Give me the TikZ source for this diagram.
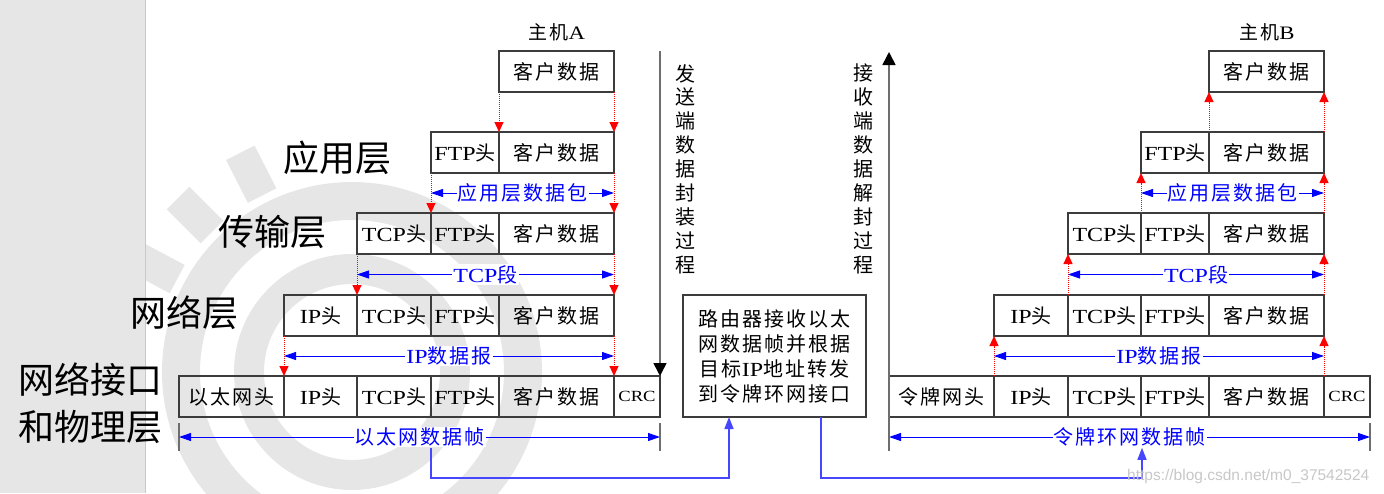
\documentclass[tikz,border=0pt]{standalone}
\usepackage{fontspec}
\setmainfont{Liberation Serif}[FakeStretch=1.2]
\newfontfamily\cjkf[LetterSpace=10]{Noto Sans CJK SC}
\newfontfamily\cjkb{Noto Sans CJK SC}
\newfontfamily\wmf{Liberation Sans}
\newcommand\zhs[1]{{\cjkf #1}}
\newcommand\zhb[1]{{\cjkb #1}}
\usetikzlibrary{arrows.meta,calc}
\definecolor{wm}{RGB}{230,230,230}
\definecolor{stripe}{RGB}{230,230,230}
\definecolor{stripeline}{RGB}{200,200,200}
\definecolor{boxline}{RGB}{60,60,60}
\definecolor{vline}{RGB}{110,110,110}
\definecolor{pblue}{RGB}{0,0,255}
\definecolor{lblue}{RGB}{70,70,255}
\newcommand\cellnode[5]{\node[cellst,minimum width={(#3-#2)*1pt},anchor=north west] (#1) at (#2,#4) {#5};}
\newcommand\wmray[1]{\fill[wm] ($(C)+(#1:198pt)+(#1+90:16pt)$) -- ($(C)+(#1:246pt)+(#1+90:16pt)$) -- ($(C)+(#1:246pt)+(#1-90:16pt)$) -- ($(C)+(#1:198pt)+(#1-90:16pt)$) -- cycle;}
\begin{document}
\begin{tikzpicture}[x=1pt,y=-1pt,
  cellst/.style={draw=boxline,line width=1.3pt,minimum height=41pt,inner sep=0pt,outer sep=0pt,font=\fontsize{20}{24}\selectfont},
  crcst/.style={cellst,font=\fontsize{15.5}{20}\selectfont},
  reddot/.style={red,densely dotted,line width=1pt,-{Triangle[width=9pt,length=10pt]}},
  bluearr/.style={pblue,line width=1pt,{Triangle[width=8pt,length=12pt]}-{Triangle[width=8pt,length=12pt]}},
  bluelbl/.style={fill=white,inner sep=1pt,text=pblue,font=\fontsize{20}{24}\selectfont},
  tickst/.style={vline,line width=1.3pt},
  bluelink/.style={lblue,line width=1.5pt,-{Triangle[width=9pt,length=12pt]}},
  procarr/.style={vline,line width=1.6pt,-{Triangle[width=13pt,length=13pt,color=black]}},
  sidelbl/.style={font=\fontsize{36}{42}\selectfont,inner sep=0pt},
  titlest/.style={font=\fontsize{19}{22}\selectfont,inner sep=0pt},
  vtext/.style={font=\fontsize{20}{23.9}\selectfont,align=center,inner sep=0pt,anchor=north}
]
\useasboundingbox (0,0) rectangle (1384,493);
% watermark
\coordinate (C) at (352,372);
\begin{scope}
\clip (0,0) rectangle (1384,493);
\fill[wm,even odd rule] (C) circle (190pt) (C) circle (152pt);
\fill[wm,even odd rule] (C) circle (118pt) (C) circle (88pt);
\wmray{117}
\wmray{135}
\wmray{152}
\end{scope}
\fill[stripe] (0,0) rectangle (145,493);
\draw[stripeline,line width=0.8pt] (145,0) -- (145,493);

% side labels
\node[sidelbl] (lapp) at (337,158) {\zhb{应用层}};
\node[sidelbl] (ltrans) at (272,232) {\zhb{传输层}};
\node[sidelbl] (lnet) at (184,313) {\zhb{网络层}};
\node[sidelbl,anchor=west] (llink1) at (18,380) {\zhb{网络接口}};
\node[sidelbl,anchor=west] (llink2) at (18,427) {\zhb{和物理层}};

% titles
\node[titlest] (hostA) at (557,32) {\zhs{主机}A};
\node[titlest] (hostB) at (1267,32) {\zhs{主机}B};

% host A cells
\cellnode{a1d}{499}{614}{51}{\zhs{客户数据}}
\cellnode{a2f}{431}{499}{132}{FTP\zhs{头}}
\cellnode{a2d}{499}{614}{132}{\zhs{客户数据}}
\cellnode{a3t}{357}{431}{213}{TCP\zhs{头}}
\cellnode{a3f}{431}{499}{213}{FTP\zhs{头}}
\cellnode{a3d}{499}{614}{213}{\zhs{客户数据}}
\cellnode{a4i}{284}{357}{295}{IP\zhs{头}}
\cellnode{a4t}{357}{431}{295}{TCP\zhs{头}}
\cellnode{a4f}{431}{499}{295}{FTP\zhs{头}}
\cellnode{a4d}{499}{614}{295}{\zhs{客户数据}}
\cellnode{a5e}{179}{284}{376}{\zhs{以太网头}}
\cellnode{a5i}{284}{357}{376}{IP\zhs{头}}
\cellnode{a5t}{357}{431}{376}{TCP\zhs{头}}
\cellnode{a5f}{431}{499}{376}{FTP\zhs{头}}
\cellnode{a5d}{499}{614}{376}{\zhs{客户数据}}
\node[crcst,minimum width=46pt,anchor=north west] (a5c) at (614,376) {CRC};

% host B cells
\cellnode{b1d}{1209}{1324}{51}{\zhs{客户数据}}
\cellnode{b2f}{1141}{1209}{132}{FTP\zhs{头}}
\cellnode{b2d}{1209}{1324}{132}{\zhs{客户数据}}
\cellnode{b3t}{1068}{1141}{213}{TCP\zhs{头}}
\cellnode{b3f}{1141}{1209}{213}{FTP\zhs{头}}
\cellnode{b3d}{1209}{1324}{213}{\zhs{客户数据}}
\cellnode{b4i}{994}{1068}{295}{IP\zhs{头}}
\cellnode{b4t}{1068}{1141}{295}{TCP\zhs{头}}
\cellnode{b4f}{1141}{1209}{295}{FTP\zhs{头}}
\cellnode{b4d}{1209}{1324}{295}{\zhs{客户数据}}
\cellnode{b5e}{889}{994}{376}{\zhs{令牌网头}}
\cellnode{b5i}{994}{1068}{376}{IP\zhs{头}}
\cellnode{b5t}{1068}{1141}{376}{TCP\zhs{头}}
\cellnode{b5f}{1141}{1209}{376}{FTP\zhs{头}}
\cellnode{b5d}{1209}{1324}{376}{\zhs{客户数据}}
\node[crcst,minimum width=46pt,anchor=north west] (b5c) at (1324,376) {CRC};

% red dotted arrows, host A (downward)
\draw[reddot] (a1d.south west) -- (a2d.north west);
\draw[reddot] (a1d.south east) -- (a2d.north east);
\draw[reddot] (a2f.south west) -- (a3f.north west);
\draw[reddot] (a2d.south east) -- (a3d.north east);
\draw[reddot] (a3t.south west) -- (a4t.north west);
\draw[reddot] (a3d.south east) -- (a4d.north east);
\draw[reddot] (a4i.south west) -- (a5i.north west);
\draw[reddot] (a4d.south east) -- (a5d.north east);

% red dotted arrows, host B (upward)
\draw[reddot] (b2d.north west) -- (b1d.south west);
\draw[reddot] (b2d.north east) -- (b1d.south east);
\draw[reddot] (b3f.north west) -- (b2f.south west);
\draw[reddot] (b3d.north east) -- (b2d.south east);
\draw[reddot] (b4t.north west) -- (b3t.south west);
\draw[reddot] (b4d.north east) -- (b3d.south east);
\draw[reddot] (b5i.north west) -- (b4i.south west);
\draw[reddot] (b5d.north east) -- (b4d.south east);

% blue span arrows, host A
\coordinate (pa2l) at ($(a2f.south west)!.5!(a3f.north west)$);
\coordinate (pa2r) at ($(a2d.south east)!.5!(a3d.north east)$);
\draw[bluearr] (pa2l) -- node[bluelbl] (lab1) {\zhs{应用层数据包}} (pa2r);
\coordinate (pa3l) at ($(a3t.south west)!.5!(a4t.north west)$);
\coordinate (pa3r) at ($(a3d.south east)!.5!(a4d.north east)$);
\draw[bluearr] (pa3l) -- node[bluelbl] (lab2) {TCP\zhs{段}} (pa3r);
\coordinate (pa4l) at ($(a4i.south west)!.5!(a5i.north west)$);
\coordinate (pa4r) at ($(a4d.south east)!.5!(a5d.north east)$);
\draw[bluearr] (pa4l) -- node[bluelbl] (lab3) {IP\zhs{数据报}} (pa4r);

% blue span arrows, host B
\coordinate (pb2l) at ($(b2f.south west)!.5!(b3f.north west)$);
\coordinate (pb2r) at ($(b2d.south east)!.5!(b3d.north east)$);
\draw[bluearr] (pb2l) -- node[bluelbl] (lbb1) {\zhs{应用层数据包}} (pb2r);
\coordinate (pb3l) at ($(b3t.south west)!.5!(b4t.north west)$);
\coordinate (pb3r) at ($(b3d.south east)!.5!(b4d.north east)$);
\draw[bluearr] (pb3l) -- node[bluelbl] (lbb2) {TCP\zhs{段}} (pb3r);
\coordinate (pb4l) at ($(b4i.south west)!.5!(b5i.north west)$);
\coordinate (pb4r) at ($(b4d.south east)!.5!(b5d.north east)$);
\draw[bluearr] (pb4l) -- node[bluelbl] (lbb3) {IP\zhs{数据报}} (pb4r);

% frame spans
\coordinate (etA1) at (179,423); \coordinate (etA2) at (179,451);
\coordinate (etB1) at (660,423); \coordinate (etB2) at (660,451);
\draw[tickst] (etA1) -- (etA2);
\draw[tickst] (etB1) -- (etB2);
\coordinate (efl) at (179,437); \coordinate (efr) at (660,437);
\draw[bluearr] (efl) -- node[bluelbl] (ethlbl) {\zhs{以太网数据帧}} (efr);

\coordinate (rtB1) at (1370,423); \coordinate (rtB2) at (1370,451);
\draw[tickst] (rtB1) -- (rtB2);
\coordinate (tfl) at (889,437); \coordinate (tfr) at (1370,437);
\draw[bluearr] (tfl) -- node[bluelbl] (toklbl) {\zhs{令牌环网数据帧}} (tfr);

% process arrows
\coordinate (sendtop) at (660,51);
\draw[procarr] (sendtop) -- (a5c.north east);
\coordinate (rcvbot) at (889,451);
\coordinate (rcvtop) at (889,52);
\draw[procarr] (rcvbot) -- (rcvtop);

\node[vtext] (sendtxt) at (685,64) {\zhb{发}\\\zhb{送}\\\zhb{端}\\\zhb{数}\\\zhb{据}\\\zhb{封}\\\zhb{装}\\\zhb{过}\\\zhb{程}};
\node[vtext] (rcvtxt) at (863,64) {\zhb{接}\\\zhb{收}\\\zhb{端}\\\zhb{数}\\\zhb{据}\\\zhb{解}\\\zhb{封}\\\zhb{过}\\\zhb{程}};

% router box
\node[draw=boxline,line width=1.3pt,minimum width=183pt,minimum height=122pt,inner sep=0pt,outer sep=0pt,anchor=north west,align=center,font=\fontsize{20}{25}\selectfont] (router) at (683,295)
  {\zhs{路由器接收以太}\\\zhs{网数据帧并根据}\\\zhs{目标}IP\zhs{地址转发}\\\zhs{到令牌环网接口}};

% blue links
\coordinate (rin) at (729,417);
\coordinate (rout) at (821,417);
\draw[bluelink] (ethlbl.south -| a5f.west) |- (rin |- 0,478) -- (rin);
\draw[bluelink] (rout) |- (1142,478) -- (toklbl.south -| 1142,0);

% watermark text
\node[font=\wmf\fontsize{15.5}{18}\selectfont,text=black!22,anchor=west,inner sep=0pt] (wmtxt) at (1127,476) {https://blog.csdn.net/m0\_37542524};
\end{tikzpicture}
\end{document}
